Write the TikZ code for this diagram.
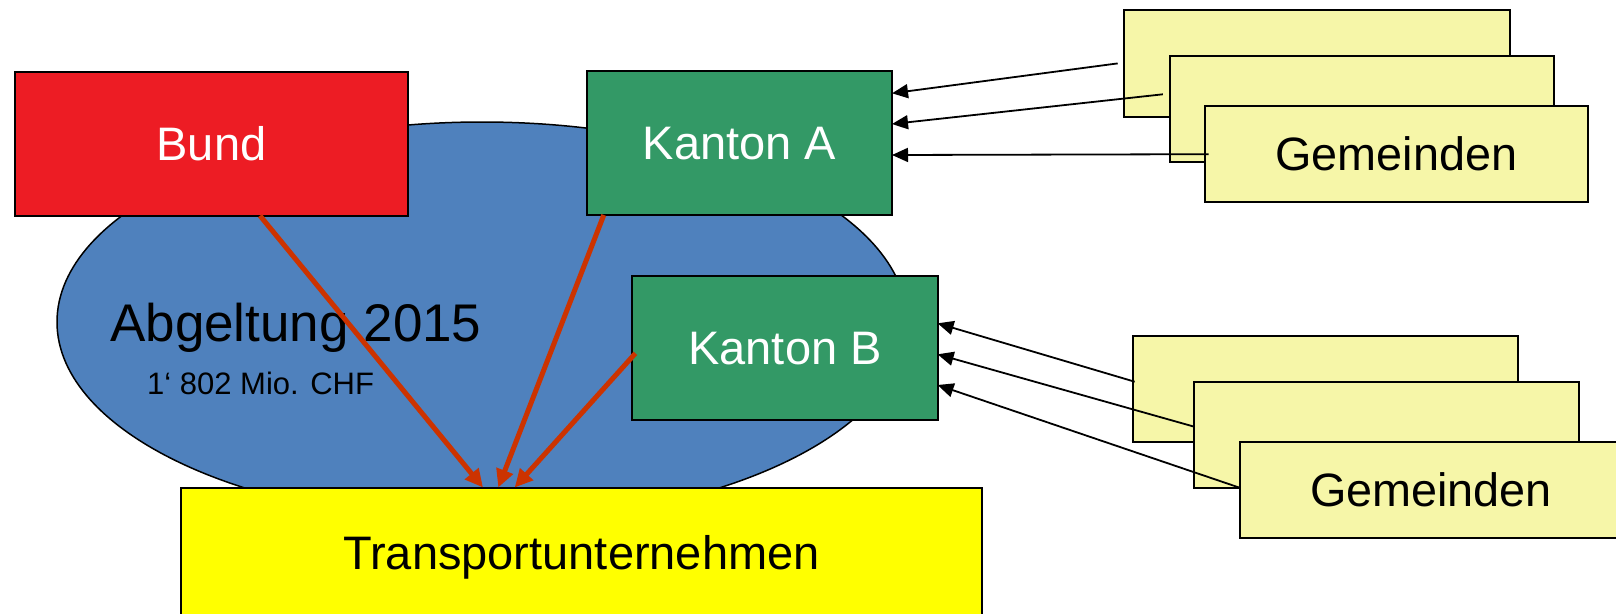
\documentclass[tikz,border=0pt]{standalone}
\usepackage{fontspec}
\setmainfont{Liberation Sans}
\usetikzlibrary{arrows.meta}
\definecolor{bundred}{HTML}{ED1C24}
\definecolor{kgreen}{HTML}{339966}
\definecolor{ellblue}{HTML}{4F81BD}
\definecolor{gemyellow}{HTML}{F6F6A8}
\definecolor{tyellow}{HTML}{FFFF00}
\definecolor{arrred}{HTML}{CC3300}
\begin{document}
\begin{tikzpicture}[x=1pt,y=-1pt,
  box/.style={draw=black, line width=2pt, inner sep=0pt, outer sep=0pt,
    text height=33.6pt, text depth=0pt, font=\fontsize{47}{50}\selectfont},
  whitebox/.style={box, text=white},
  gembox/.style={draw=black, line width=2pt, inner sep=0pt, outer sep=0pt,
    fill=gemyellow, text height=33.5pt, text depth=0pt, font=\fontsize{46.8}{50}\selectfont},
  redarrow/.style={draw=arrred, line width=5pt, -{Triangle[length=18pt,width=17pt]}},
  blackarrow/.style={draw=black, line width=1.8pt, -{Triangle[length=16pt,width=14pt]}}]
\path[use as bounding box, clip] (0,0) rectangle (1616,613);
% ellipse
\draw[fill=ellblue, line width=1.5pt] (482,322) ellipse [x radius=425, y radius=200];
\node[anchor=base west, inner sep=0pt, font=\fontsize{53}{56}\selectfont] (abg) at (110,341.7) {Abgeltung 2015};
\node[anchor=base west, inner sep=0pt, font=\fontsize{31}{33}\selectfont] (mio) at (147,394) {1‘ 802 Mio. CHF};
% main boxes
\node[whitebox, fill=bundred, minimum width=393.8pt, minimum height=144pt] (bund) at (211.4,143.7) {Bund};
\node[whitebox, fill=kgreen, minimum width=305pt, minimum height=144pt] (kA) at (739.5,143) {Kanton A};
\node[whitebox, fill=kgreen, minimum width=305.2pt, minimum height=144.6pt] (kB) at (785,348) {Kanton B};
\node[box, fill=tyellow, minimum width=801.7pt, minimum height=131pt] (trans) at (581.5,553) {Transportunternehmen};
% Gemeinden A
\node[gembox, minimum width=385.2pt, minimum height=106.7pt] (gA1) at (1317,63.4) {};
\node[gembox, minimum width=384.5pt, minimum height=106.6pt] (gA2) at (1361.8,109) {};
\node[gembox, minimum width=383.9pt, minimum height=96.3pt] (gA3) at (1396.5,154.2) {Gemeinden};
% Gemeinden B
\node[gembox, minimum width=384.3pt, minimum height=106.3pt] (gB1) at (1325.5,389.2) {};
\node[gembox, minimum width=384.3pt, minimum height=106.3pt] (gB2) at (1386.4,435.2) {};
\node[gembox, minimum width=382.8pt, minimum height=96.3pt] (gB3) at (1431,490.2) {Gemeinden};
% red arrows
\draw[redarrow] ([xshift=48.6pt]bund.south) -- ([xshift=-98.5pt]trans.north);
\draw[redarrow] ([xshift=-135.7pt]kA.south) -- ([xshift=-83.2pt]trans.north);
\draw[redarrow] ([xshift=3pt,yshift=-5.3pt]kB.west) -- ([xshift=-66.8pt]trans.north);
% black arrows A
\draw[blackarrow] ([xshift=-6.7pt]gA1.west) -- ([yshift=49.7pt]kA.east);
\draw[blackarrow] ([xshift=-6.7pt,yshift=14.7pt]gA2.west) -- ([yshift=19pt]kA.east);
\draw[blackarrow] ([xshift=4pt]gA3.west) -- ([yshift=-12pt]kA.east);
% black arrows B
\draw[blackarrow] ([xshift=1.3pt,yshift=7.5pt]gB1.west) -- ([yshift=24.7pt]kB.east);
\draw[blackarrow] ([yshift=8.5pt]gB2.west) -- ([yshift=-6.3pt]kB.east);
\draw[blackarrow] ([yshift=2.5pt]gB3.west) -- ([yshift=-37pt]kB.east);
\end{tikzpicture}
\end{document}
